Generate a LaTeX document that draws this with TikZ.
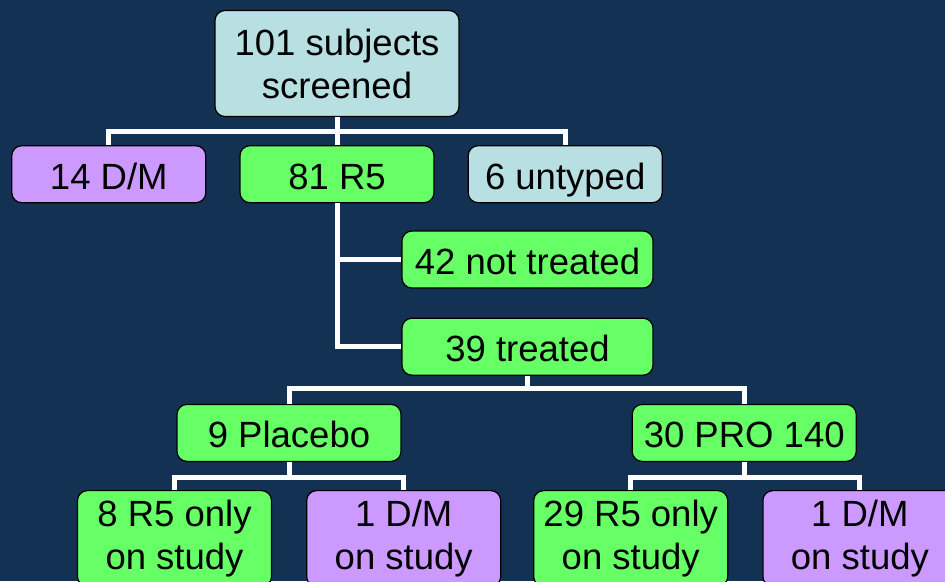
\documentclass[tikz,border=0pt]{standalone}
\usepackage{fontspec}
\setmainfont{Liberation Sans}
\usepackage{tikz}
\usetikzlibrary{positioning}

\definecolor{navy}{RGB}{19,49,83}
\definecolor{aqua}{RGB}{184,224,227}
\definecolor{grn}{RGB}{102,255,102}
\definecolor{prp}{RGB}{204,153,255}

\begin{document}
\begin{tikzpicture}[x=1pt,y=1pt,
	box/.style={draw=black, line width=1.2pt, rounded corners=10pt, inner sep=0pt, align=center,
		minimum height=57pt, minimum width=194pt, font=\fontsize{36.5}{43}\selectfont},
	one/.style={text height=30pt, text depth=0pt},
	tall/.style={minimum height=96pt},
	link/.style={draw=white, line width=5pt}]
		
		\useasboundingbox (0,0) rectangle (945,-581);
		\clip (0,0) rectangle (945,-581);
		\fill[navy] (0,0) rectangle (945,-581);
		
		\node[box,fill=aqua,minimum width=244pt,minimum height=106pt] (subj) at (337,-63.5) {101 subjects\\screened};
		\node[box,one,fill=grn,below=28pt of subj] (rfive) {81 R5};
		\node[box,one,fill=prp,left=33pt of rfive] (dm) {14 D/M};
		\node[box,one,fill=aqua,right=33pt of rfive] (untyped) {6 untyped};
		
		\node[box,one,fill=grn,minimum width=251pt] (nottr) at (527.5,-259.5) {42 not treated};
		\node[box,one,fill=grn,minimum width=251pt,below=29pt of nottr] (treat) {39 treated};
		
		\node[box,one,fill=grn,minimum width=224pt,below=28pt of treat,xshift=-238.5pt] (plac) {9 Placebo};
		\node[box,one,fill=grn,minimum width=224pt,right=230pt of plac] (pro) {30 PRO 140};
		
		\node[box,fill=grn,tall,below=28pt of plac,xshift=-114.5pt] (plrfive) {8 R5 only\\on study};
		\node[box,fill=prp,tall,right=34pt of plrfive] (pldm) {1 D/M\\on study};
		\node[box,fill=grn,tall,below=28pt of pro,xshift=-113.5pt] (prorfive) {29 R5 only\\on study};
		\node[box,fill=prp,tall,right=34pt of prorfive] (prodm) {1 D/M\\on study};
		
		% junctions
		\coordinate (j1) at ([yshift=-14pt]subj.south);
		\coordinate (j2) at ([yshift=-13pt]treat.south);
		\coordinate (j3) at ([yshift=-15pt]plac.south);
		\coordinate (j4) at ([yshift=-15pt]pro.south);
		
		\draw[link] (subj.south) -- (j1);
		\draw[link] (dm.north) |- (j1) -| (untyped.north);
		\draw[link] (j1) -- (rfive.north);
		
		\draw[link] (rfive.south) |- (treat.west);
		\draw[link] (rfive.south |- nottr.west) -- (nottr.west);
		
		\draw[link] (treat.south) -- (j2);
		\draw[link] (plac.north) |- (j2) -| (pro.north);
		
		\draw[link] (plac.south) -- (j3);
		\draw[link] (plrfive.north) |- (j3) -| (pldm.north);
		\draw[link] (pro.south) -- (j4);
		\draw[link] (prorfive.north) |- (j4) -| (prodm.north);
		
\end{tikzpicture}
\end{document}
